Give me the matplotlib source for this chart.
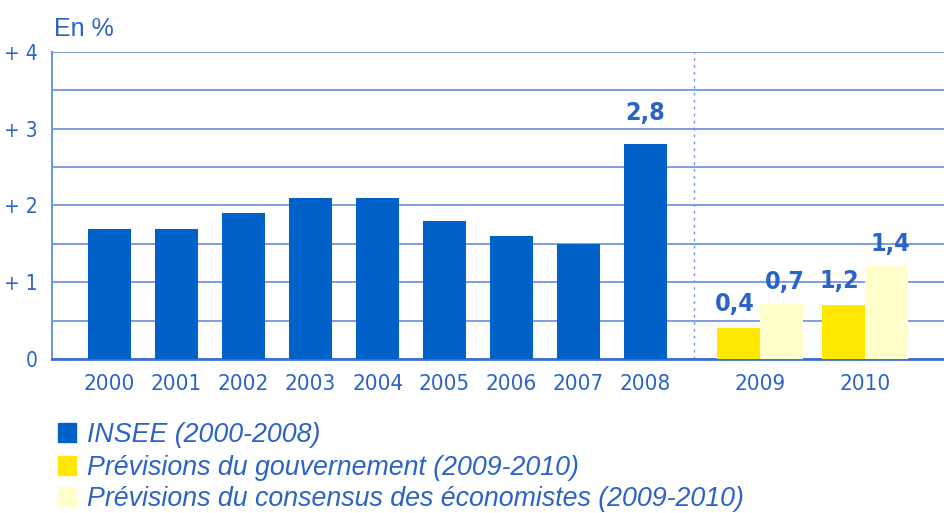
import matplotlib
matplotlib.use("Agg")
import matplotlib.pyplot as plt
from matplotlib import font_manager
from matplotlib.patches import Rectangle

# ---- data ----
years_hist = ["2000", "2001", "2002", "2003", "2004", "2005", "2006", "2007", "2008"]
insee = [1.7, 1.7, 1.9, 2.1, 2.1, 1.8, 1.6, 1.5, 2.8]
years_prev = ["2009", "2010"]
gouv = [0.4, 0.7]
consensus = [0.72, 1.22]
label_2008 = "2,8"
gouv_labels = ["0,4", "1,2"]
consensus_labels = ["0,7", "1,4"]
yticks = [0, 1, 2, 3, 4]
ytick_labels = ["0", "+ 1", "+ 2", "+ 3", "+ 4"]
legend_labels = ["INSEE (2000-2008)",
                 "Prévisions du gouvernement (2009-2010)",
                 "Prévisions du consensus des économistes (2009-2010)"]

BLUE = "#0062C8"
YELLOW = "#FFE800"
PALE = "#FFFFCC"
TXT = "#2B63C9"
GRID = "#7396DE"

names = {f.name for f in font_manager.fontManager.ttflist}
if "Liberation Sans Narrow" in names:
    NARROW = dict(family="Liberation Sans Narrow")
else:
    NARROW = dict(family="DejaVu Sans", fontstretch="condensed")
MAIN = "Liberation Sans"

fig = plt.figure(figsize=(9.45, 5.13), dpi=100)
ax = fig.add_axes([0.055, 0.300, 0.945, 0.599])

x_hist = list(range(len(years_hist)))
x_prev = [9.71, 11.28]
w = 0.64
ax.bar(x_hist, insee, width=w, color=BLUE, zorder=3)
ax.bar([x - w / 2 for x in x_prev], gouv, width=w, color=YELLOW, zorder=3)
ax.bar([x + w / 2 for x in x_prev], consensus, width=w, color=PALE, zorder=3)

ax.set_xlim(-0.86, 12.47)
ax.set_ylim(0, 4)
ax.set_yticks(yticks)
ax.set_yticklabels(ytick_labels, fontsize=15, color=TXT, **NARROW)
ax.set_yticks([0.5, 1.5, 2.5, 3.5], minor=True)
ax.grid(axis="y", which="both", color=GRID, linewidth=1.3, zorder=1)
ax.tick_params(axis="y", which="both", length=0, pad=10)

ax.set_xticks(x_hist + x_prev)
ax.set_xticklabels(years_hist + years_prev, fontsize=16, color=TXT, **NARROW)
ax.tick_params(axis="x", length=0, pad=11)

for s in ["top", "right"]:
    ax.spines[s].set_visible(False)
ax.spines["left"].set_color(GRID)
ax.spines["left"].set_linewidth(1.5)
ax.spines["bottom"].set_color("#3E6FD0")
ax.spines["bottom"].set_linewidth(2)

ax.axvline(8.72, color=GRID, linestyle=(0, (2, 3)), linewidth=1.0, zorder=2)

def lab(x, y, t, off):
    ax.annotate(t, (x, y), xytext=(0, off), textcoords="offset points",
                ha="center", va="bottom", fontsize=18, color=TXT,
                fontweight="bold", **NARROW)

lab(x_hist[-1], insee[-1], label_2008, 14)
for i in range(2):
    lab(x_prev[i] - w / 2 - 0.06, gouv[i], gouv_labels[i], 9)
    lab(x_prev[i] + w / 2 + 0.05, consensus[i], consensus_labels[i], 7)

fig.text(54 / 945, 1 - 36 / 513, "En %", fontsize=18, color=TXT, va="baseline",
         ha="left", family=MAIN)

# legend
colors = [BLUE, YELLOW, PALE]
baselines = [442, 475, 506]
for c, y, t in zip(colors, baselines, legend_labels):
    fig.patches.append(Rectangle((58 / 945, 1 - y / 513), 18 / 945, 19 / 513,
                                 transform=fig.transFigure, color=c, figure=fig))
    fig.text(87 / 945, 1 - y / 513, t, fontsize=19.3, style="italic", color=TXT,
             va="baseline", ha="left", family=MAIN)

fig.savefig("out.png", dpi=100)
